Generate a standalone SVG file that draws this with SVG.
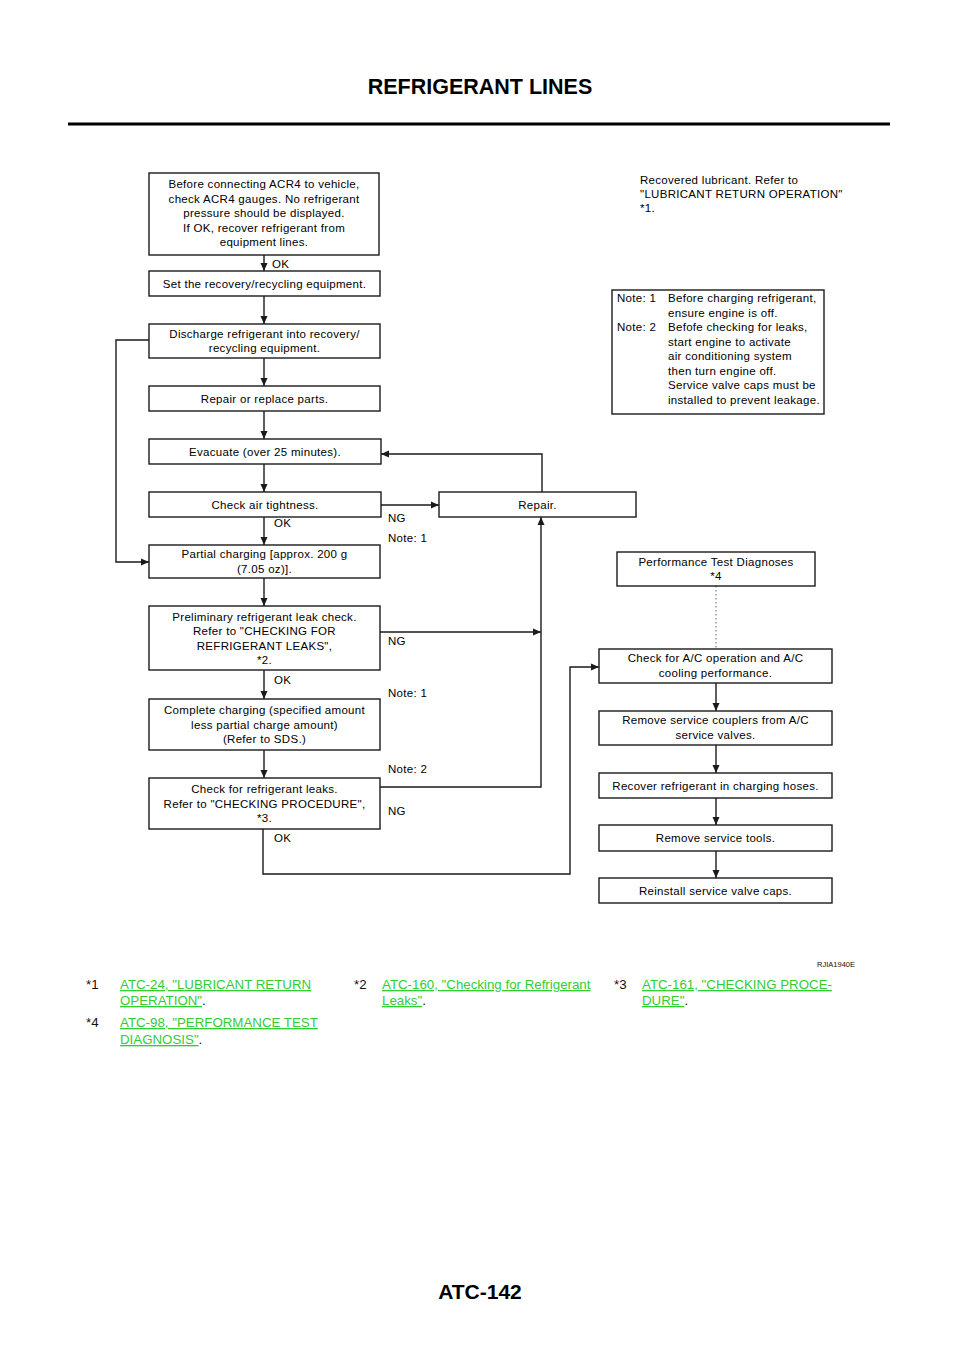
<svg xmlns="http://www.w3.org/2000/svg" width="960" height="1358" viewBox="0 0 960 1358">
<style>
.bx{fill:#fff;stroke:#1a1a1a;stroke-width:1.4}
.t{font-family:"Liberation Sans",Arial,sans-serif;font-size:11.5px;letter-spacing:0.3px;fill:#000;text-anchor:middle}
.l{font-family:"Liberation Sans",Arial,sans-serif;font-size:11.5px;letter-spacing:0.3px;fill:#000}
.c{fill:none;stroke:#1a1a1a;stroke-width:1.4}
.d{fill:none;stroke:#666;stroke-width:1;stroke-dasharray:1.5 2.5}
.f{font-family:"Liberation Sans",Arial,sans-serif;font-size:13.3px;fill:#111}
.g{fill:#33cc33;text-decoration:underline}
</style>
<defs>
<marker id="ah" markerWidth="9" markerHeight="9" refX="8" refY="4.5" orient="auto" markerUnits="userSpaceOnUse">
<path d="M0,1 L8,4.5 L0,8 Z" fill="#1a1a1a"/>
</marker>
</defs>
<rect width="960" height="1358" fill="#fff"/>
<text x="480" y="94" font-family="Liberation Sans,Arial,sans-serif" font-size="21.5" font-weight="bold" text-anchor="middle" fill="#000">REFRIGERANT LINES</text>
<line x1="68" y1="124" x2="890" y2="124" stroke="#000" stroke-width="3"/>

<g id="connectors">
<line class="c" x1="264" y1="255" x2="264" y2="271" marker-end="url(#ah)"/>
<line class="c" x1="264" y1="296" x2="264" y2="324" marker-end="url(#ah)"/>
<line class="c" x1="264" y1="358" x2="264" y2="386" marker-end="url(#ah)"/>
<line class="c" x1="264" y1="411" x2="264" y2="439" marker-end="url(#ah)"/>
<line class="c" x1="264" y1="464" x2="264" y2="492" marker-end="url(#ah)"/>
<line class="c" x1="264" y1="517" x2="264" y2="545" marker-end="url(#ah)"/>
<line class="c" x1="264" y1="578" x2="264" y2="606" marker-end="url(#ah)"/>
<line class="c" x1="264" y1="670" x2="264" y2="699" marker-end="url(#ah)"/>
<line class="c" x1="264" y1="750" x2="264" y2="778" marker-end="url(#ah)"/>
<polyline class="c" points="149,340 116,340 116,562 149,562" marker-end="url(#ah)"/>
<line class="c" x1="381" y1="505" x2="439" y2="505" marker-end="url(#ah)"/>
<polyline class="c" points="542,492 542,454 381,454" marker-end="url(#ah)"/>
<line class="c" x1="380" y1="632" x2="541" y2="632" marker-end="url(#ah)"/>
<polyline class="c" points="380,787 541,787 541,517" marker-end="url(#ah)"/>
<polyline class="c" points="263,829 263,874 570,874 570,667 599,667" marker-end="url(#ah)"/>
<line class="d" x1="716" y1="586" x2="716" y2="649"/>
<line class="c" x1="716" y1="683" x2="716" y2="711" marker-end="url(#ah)"/>
<line class="c" x1="716" y1="745" x2="716" y2="773" marker-end="url(#ah)"/>
<line class="c" x1="716" y1="798" x2="716" y2="825" marker-end="url(#ah)"/>
<line class="c" x1="716" y1="851" x2="716" y2="878" marker-end="url(#ah)"/>
<text class="l" x="272" y="268">OK</text>
<text class="l" x="274" y="527">OK</text>
<text class="l" x="274" y="684">OK</text>
<text class="l" x="274" y="842">OK</text>
<text class="l" x="388" y="522">NG</text>
<text class="l" x="388" y="542">Note: 1</text>
<text class="l" x="388" y="645">NG</text>
<text class="l" x="388" y="697">Note: 1</text>
<text class="l" x="388" y="773">Note: 2</text>
<text class="l" x="388" y="815">NG</text>
</g>

<g id="n1"><rect class="bx" x="149" y="173" width="230" height="82"/>
<text class="t" x="264" y="188">Before connecting ACR4 to vehicle,</text>
<text class="t" x="264" y="202.5">check ACR4 gauges. No refrigerant</text>
<text class="t" x="264" y="217">pressure should be displayed.</text>
<text class="t" x="264" y="231.5">If OK, recover refrigerant from</text>
<text class="t" x="264" y="246">equipment lines.</text></g>
<g id="n2"><rect class="bx" x="149" y="271" width="231" height="25"/>
<text class="t" x="264.5" y="287.5">Set the recovery/recycling equipment.</text></g>
<g id="n3"><rect class="bx" x="149" y="324" width="231" height="34"/>
<text class="t" x="264.5" y="337.5">Discharge refrigerant into recovery/</text>
<text class="t" x="264.5" y="352">recycling equipment.</text></g>
<g id="n4"><rect class="bx" x="149" y="386" width="231" height="25"/>
<text class="t" x="264.5" y="402.5">Repair or replace parts.</text></g>
<g id="n5"><rect class="bx" x="149" y="439" width="232" height="25"/>
<text class="t" x="265" y="455.5">Evacuate (over 25 minutes).</text></g>
<g id="n6"><rect class="bx" x="149" y="492" width="232" height="25"/>
<text class="t" x="265" y="508.5">Check air tightness.</text></g>
<g id="n7"><rect class="bx" x="149" y="545" width="231" height="33"/>
<text class="t" x="264.5" y="558">Partial charging [approx. 200 g</text>
<text class="t" x="264.5" y="572.5">(7.05 oz)].</text></g>
<g id="n8"><rect class="bx" x="149" y="606" width="231" height="64"/>
<text class="t" x="264.5" y="620.5">Preliminary refrigerant leak check.</text>
<text class="t" x="264.5" y="635">Refer to "CHECKING FOR</text>
<text class="t" x="264.5" y="649.5">REFRIGERANT LEAKS",</text>
<text class="t" x="264.5" y="664">*2.</text></g>
<g id="n9"><rect class="bx" x="149" y="699" width="231" height="51"/>
<text class="t" x="264.5" y="714">Complete charging (specified amount</text>
<text class="t" x="264.5" y="728.5">less partial charge amount)</text>
<text class="t" x="264.5" y="743">(Refer to SDS.)</text></g>
<g id="n10"><rect class="bx" x="149" y="778" width="231" height="51"/>
<text class="t" x="264.5" y="793">Check for refrigerant leaks.</text>
<text class="t" x="264.5" y="807.5">Refer to "CHECKING PROCEDURE",</text>
<text class="t" x="264.5" y="822">*3.</text></g>
<g id="repair"><rect class="bx" x="439" y="492" width="197" height="25"/>
<text class="t" x="537.5" y="508.5">Repair.</text></g>

<g id="lubricant">
<text class="l" x="640" y="184">Recovered lubricant. Refer to</text>
<text class="l" x="640" y="198" letter-spacing="0.1">"LUBRICANT RETURN OPERATION"</text>
<text class="l" x="640" y="212">*1.</text></g>
<g id="notes"><rect class="bx" x="612" y="290" width="212" height="124"/>
<text class="l" x="617" y="302">Note: 1</text><text class="l" x="668" y="302">Before charging refrigerant,</text>
<text class="l" x="668" y="316.5">ensure engine is off.</text>
<text class="l" x="617" y="331">Note: 2</text><text class="l" x="668" y="331">Befofe checking for leaks,</text>
<text class="l" x="668" y="345.5">start engine to activate</text>
<text class="l" x="668" y="360">air conditioning system</text>
<text class="l" x="668" y="374.5">then turn engine off.</text>
<text class="l" x="668" y="389">Service valve caps must be</text>
<text class="l" x="668" y="403.5">installed to prevent leakage.</text></g>

<g id="perf"><rect class="bx" x="617" y="552" width="198" height="34"/>
<text class="t" x="716" y="566">Performance Test Diagnoses</text>
<text class="t" x="716" y="580">*4</text></g>
<g id="r1"><rect class="bx" x="599" y="649" width="233" height="34"/>
<text class="t" x="715.5" y="662">Check for A/C operation and A/C</text>
<text class="t" x="715.5" y="676.5">cooling performance.</text></g>
<g id="r2"><rect class="bx" x="599" y="711" width="233" height="34"/>
<text class="t" x="715.5" y="724">Remove service couplers from A/C</text>
<text class="t" x="715.5" y="738.5">service valves.</text></g>
<g id="r3"><rect class="bx" x="599" y="773" width="233" height="25"/>
<text class="t" x="715.5" y="789.5">Recover refrigerant in charging hoses.</text></g>
<g id="r4"><rect class="bx" x="599" y="825" width="233" height="26"/>
<text class="t" x="715.5" y="842">Remove service tools.</text></g>
<g id="r5"><rect class="bx" x="599" y="878" width="233" height="25"/>
<text class="t" x="715.5" y="894.5">Reinstall service valve caps.</text></g>

<text x="855" y="967" font-family="Liberation Sans,Arial,sans-serif" font-size="7.5" text-anchor="end" fill="#111">RJIA1940E</text>

<g id="footnotes">
<text class="f" x="86" y="989">*1</text>
<text class="f" x="120" y="989"><tspan class="g">ATC-24, "LUBRICANT RETURN </tspan></text>
<text class="f" x="120" y="1005"><tspan class="g">OPERATION"</tspan>.</text>
<text class="f" x="354" y="989">*2</text>
<text class="f" x="382" y="989"><tspan class="g">ATC-160, "Checking for Refrigerant </tspan></text>
<text class="f" x="382" y="1005"><tspan class="g">Leaks"</tspan>.</text>
<text class="f" x="614" y="989">*3</text>
<text class="f" x="642" y="989"><tspan class="g">ATC-161, "CHECKING PROCE-</tspan></text>
<text class="f" x="642" y="1005"><tspan class="g">DURE"</tspan>.</text>
<text class="f" x="86" y="1027">*4</text>
<text class="f" x="120" y="1027"><tspan class="g">ATC-98, "PERFORMANCE TEST </tspan></text>
<text class="f" x="120" y="1044"><tspan class="g">DIAGNOSIS"</tspan>.</text>
</g>

<text x="480" y="1299" font-family="Liberation Sans,Arial,sans-serif" font-size="21" font-weight="bold" text-anchor="middle" fill="#000">ATC-142</text>
</svg>
